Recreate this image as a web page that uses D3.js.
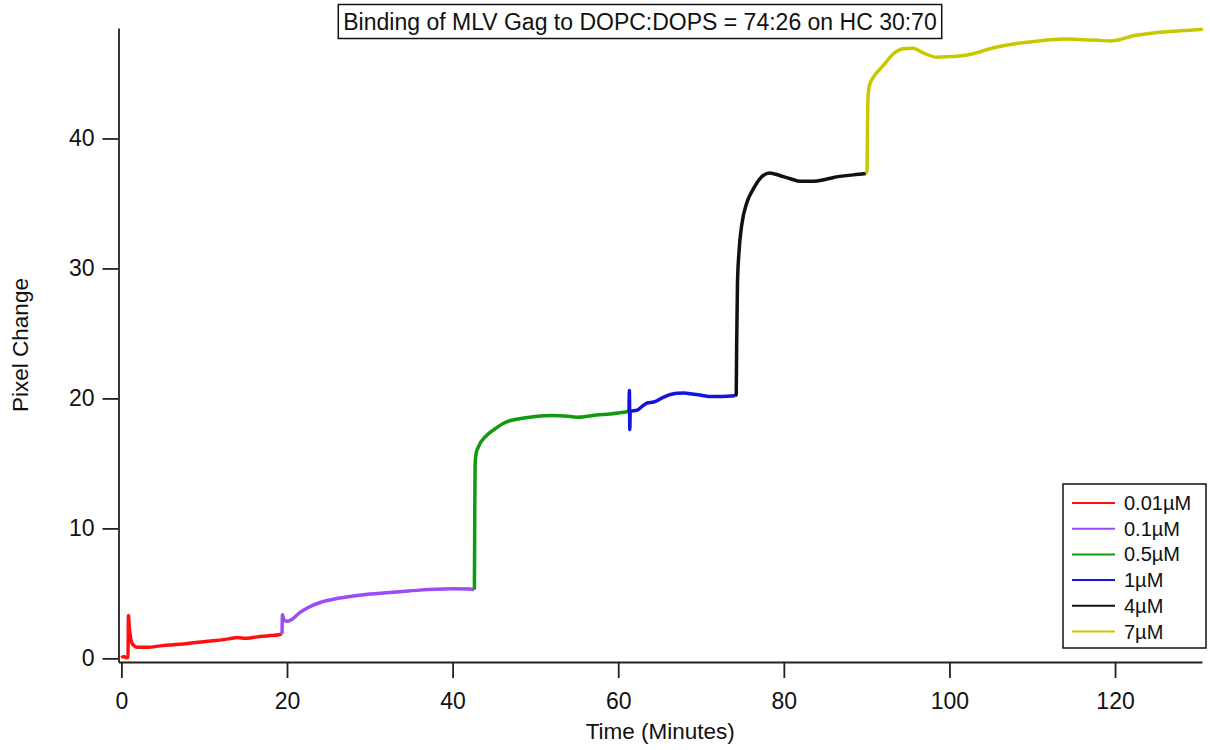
<!DOCTYPE html>
<html>
<head>
<meta charset="utf-8">
<script src="https://cdn.jsdelivr.net/npm/d3@7"></script>
<style>
  body { margin: 0; background: #fff; }
  svg { font-family: "Liberation Sans", Arial, sans-serif; }
</style>
</head>
<body>
<svg id="chart" width="1210" height="750"></svg>
<script>
// concentrations shown in the legend
var labels = ["0.01\u00b5M", "0.1\u00b5M", "0.5\u00b5M", "1\u00b5M", "4\u00b5M", "7\u00b5M"];
var colors = ["#ff1010", "#9b4cf5", "#109a10", "#1414e0", "#111111", "#c8c800"];

// [time (minutes), pixel change]
var s001 = [[0,0.05],[0.3,0.15],[0.6,0.05],[0.8,0.1],[0.85,3.3],[0.95,2.4],[1.1,1.6],[1.3,1.15],[1.6,0.95],[2,0.85],[3,0.85],
  [5,0.98],[7,1.08],[9,1.22],[11,1.35],[13,1.5],[14,1.6],[15,1.55],[16,1.62],[17,1.7],[18,1.75],[19,1.82],[19.4,1.88]];
var s01 = [[19.4,1.88],[19.45,3.35],[19.6,3.0],[20.0,2.85],[20.6,3.0],[21.5,3.5],[22.5,3.9],[24,4.3],[26,4.6],[28,4.8],
  [30,4.95],[32,5.05],[34,5.15],[36,5.25],[38,5.32],[40,5.35],[42,5.33],[42.6,5.3]];
var s05 = [[42.6,5.3],[42.63,5.4],[42.68,12],[42.72,15],[42.85,15.8],[43.1,16.25],[44.1,17.15],[45,17.6],[46.1,18.07],
  [47,18.3],[48.2,18.45],[50,18.6],[52,18.68],[54,18.62],[55,18.56],[56,18.6],[57.4,18.72],[59,18.8],[60.2,18.9],[61.3,19.0]];
var s1 = [[61.3,19.0],[61.35,20.6],[61.4,17.6],[61.45,19.0],[62.3,19.1],[63,19.45],[63.5,19.65],[64.3,19.72],[65.5,20.1],
  [66.3,20.3],[67.1,20.4],[68,20.42],[68.7,20.36],[70,20.25],[71,20.15],[72.5,20.15],[74.1,20.2]];
var s4 = [[74.1,20.2],[74.25,20.3],[74.3,24],[74.4,28.8],[74.6,31.4],[74.93,33.4],[75.5,35.0],[76.3,36.1],[77.1,36.9],
  [78.3,37.35],[79.5,37.15],[80.8,36.9],[82,36.7],[83.6,36.7],[85,36.85],[86,37.0],[88.4,37.2],[89.9,37.3]];
var s7 = [[89.9,37.3],[90.05,37.5],[90.1,41],[90.2,43.5],[90.4,44.2],[90.8,44.7],[92,45.6],[93.2,46.5],[94.4,46.9],
  [95.6,46.95],[96.9,46.56],[98.5,46.25],[100,46.3],[101.7,46.38],[103.3,46.6],[104.9,46.9],[108.1,47.3],[110,47.45],
  [112.2,47.6],[114,47.65],[116.2,47.6],[118,47.55],[119.4,47.5],[120.5,47.6],[122.2,47.9],[125,48.15],[128.3,48.3],[130.6,48.4]];
var series = [s001, s01, s05, s1, s4, s7];

var xTicks = [0, 20, 40, 60, 80, 100, 120];
var yTicks = [0, 10, 20, 30, 40];
var title = "Binding of MLV Gag to DOPC:DOPS = 74:26 on HC 30:70";

var margin = {top: 28, right: 8, bottom: 88, left: 118.5},
    width = 1210 - margin.left - margin.right,
    height = 750 - margin.top - margin.bottom;

var x = d3.scaleLinear().domain([-0.35, 130.5]).range([0, width]);
var y = d3.scaleLinear().domain([-0.28, 48.5]).range([height, 0]);

var svg = d3.select("#chart")
    .append("g")
    .attr("transform", "translate(" + margin.left + "," + margin.top + ")");

// traces
var line = d3.line()
    .curve(d3.curveMonotoneX)
    .x(function(d) { return x(d[0]); })
    .y(function(d) { return y(d[1]); });

svg.selectAll(".trace")
    .data(series)
    .enter().append("path")
    .attr("class", "trace")
    .attr("d", line)
    .attr("fill", "none")
    .attr("stroke", function(d, i) { return colors[i]; })
    .attr("stroke-width", 3.5)
    .attr("stroke-linejoin", "round");

// axes
var xAxis = svg.append("g")
    .attr("transform", "translate(0," + height + ")")
    .call(d3.axisBottom(x).tickValues(xTicks).tickSize(16).tickSizeOuter(0).tickPadding(15));
var yAxis = svg.append("g")
    .call(d3.axisLeft(y).tickValues(yTicks).tickSize(16).tickSizeOuter(0).tickPadding(8));

[xAxis, yAxis].forEach(function(a) {
    a.select(".domain").attr("stroke", "#222").attr("stroke-width", 1.8);
    a.selectAll(".tick line").attr("stroke", "#222").attr("stroke-width", 1.8);
    a.selectAll(".tick text").attr("fill", "#111").style("font-size", "23px")
        .style("font-family", "'Liberation Sans', Arial, sans-serif");
});

// axis titles
svg.append("text")
    .attr("x", width / 2)
    .attr("y", height + 77)
    .attr("text-anchor", "middle")
    .style("font-size", "22.5px")
    .attr("fill", "#111")
    .text("Time (Minutes)");

svg.append("text")
    .attr("transform", "translate(" + (28 - margin.left) + "," + (height / 2) + ") rotate(-90)")
    .attr("text-anchor", "middle")
    .style("font-size", "22.5px")
    .attr("fill", "#111")
    .text("Pixel Change");

// title in a box
var tg = d3.select("#chart").append("g");
var tt = tg.append("text")
    .attr("x", 640)
    .attr("y", 30)
    .attr("text-anchor", "middle")
    .style("font-size", "23px")
    .attr("fill", "#111")
    .text(title);
var tb = tt.node().getBBox();
tg.insert("rect", "text")
    .attr("x", tb.x - 5).attr("y", 4.5)
    .attr("width", tb.width + 10).attr("height", 34)
    .attr("fill", "#fff").attr("stroke", "#111").attr("stroke-width", 1.5);

// legend
var lg = d3.select("#chart").append("g").attr("transform", "translate(1063,484)");
lg.append("rect")
    .attr("width", 143).attr("height", 164)
    .attr("fill", "#fff").attr("stroke", "#111").attr("stroke-width", 1.5);
var item = lg.selectAll(".item")
    .data(labels)
    .enter().append("g")
    .attr("class", "item")
    .attr("transform", function(d, i) { return "translate(0," + (19 + i * 25.7) + ")"; });
item.append("line")
    .attr("x1", 9).attr("x2", 52)
    .attr("stroke", function(d, i) { return colors[i]; })
    .attr("stroke-width", 2);
item.append("text")
    .attr("x", 61).attr("y", 7)
    .style("font-size", "20px")
    .attr("fill", "#111")
    .text(function(d) { return d; });
</script>
</body>
</html>
